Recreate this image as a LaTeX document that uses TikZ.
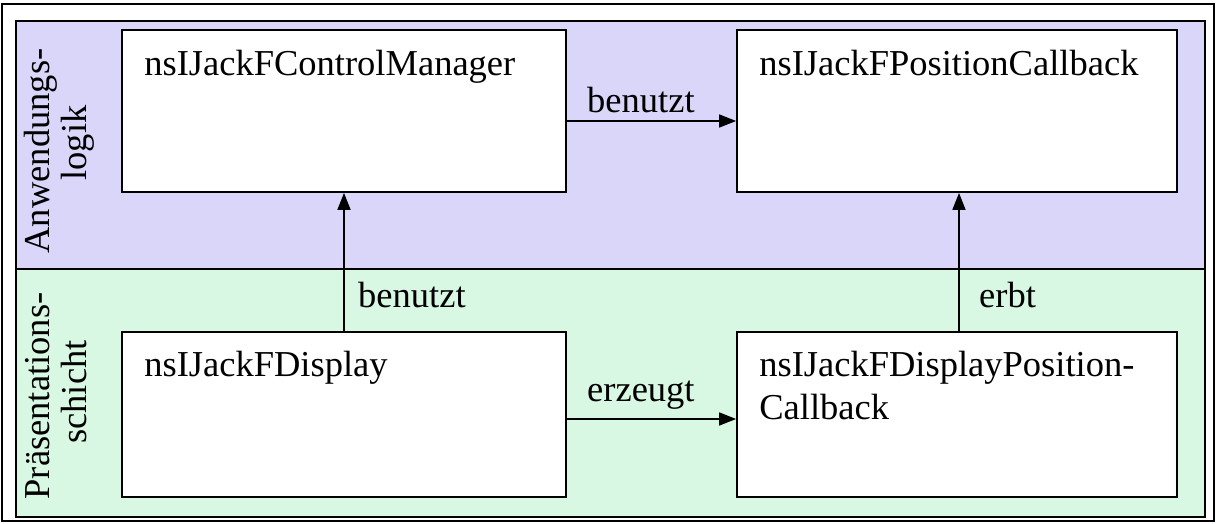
\documentclass[tikz,border=0pt]{standalone}
\usepackage{fontspec}
\setmainfont{Liberation Serif}
\usetikzlibrary{arrows.meta,calc}
\definecolor{lanepurple}{RGB}{218,214,250}
\definecolor{lanegreen}{RGB}{216,248,228}
\tikzset{
  txt/.style={inner sep=0pt, font=\fontsize{36.5}{43}\selectfont},
  classbox/.style={draw=black, line width=1.8pt, fill=white, rectangle, inner sep=0pt},
  arr/.style={draw=black, line width=1.6pt, -{Triangle[length=17pt,width=13pt]}},
  lane/.style={draw=black, line width=1.8pt},
}
\begin{document}
\begin{tikzpicture}[x=1pt,y=-1pt]
\useasboundingbox (0,0) rectangle (1216,524);
% outer frame
\draw[black, line width=1.5pt] (2,4) rectangle (1214,521);
% lanes
\draw[lane, fill=lanepurple] (16,21) rectangle (1205,269);
\draw[lane, fill=lanegreen] (16,269) rectangle (1205,517);
% lane labels
\node[txt, rotate=90, anchor=base] (l1a) at (49,151) {Anwendungs-};
\node[txt, rotate=90, anchor=base] (l1b) at (86,143) {logik};
\node[txt, rotate=90, anchor=base] (l2a) at (49,396) {Präsentations-};
\node[txt, rotate=90, anchor=base] (l2b) at (86,392) {schicht};
% boxes
\node[classbox, minimum width=444pt, minimum height=162pt] (cm) at (344,111) {};
\node[classbox, minimum width=440pt, minimum height=162pt] (pc) at (957,111) {};
\node[classbox, minimum width=444pt, minimum height=165pt] (disp) at (344,414.5) {};
\node[classbox, minimum width=440pt, minimum height=165pt] (dpc) at (957,414.5) {};
% box texts
\node[txt, anchor=base west] (tcm) at ($(cm.north west)+(23,46)$) {nsIJackFControlManager};
\node[txt, anchor=base west] (tpc) at ($(pc.north west)+(23,46)$) {nsIJackFPositionCallback};
\node[txt, anchor=base west] (tdisp) at ($(disp.north west)+(23,45)$) {nsIJackFDisplay};
\node[txt, anchor=base west] (tdpc) at ($(dpc.north west)+(23,45)$) {nsIJackFDisplayPosition-};
\node[txt, anchor=base west] (tdpc2) at ($(dpc.north west)+(23,88)$) {Callback};
% connectors
\draw[arr] ([yshift=-10pt]cm.east) -- ([yshift=-10pt]pc.west);
\draw[arr] ([yshift=-4.5pt]disp.east) -- ([yshift=-4.5pt]dpc.west);
\draw[arr] (disp.north) -- (cm.south);
\draw[arr] ([xshift=2pt]dpc.north) -- ([xshift=2pt]pc.south);
% connector labels
\node[txt, anchor=base west] (lb1) at (587,113) {benutzt};
\node[txt, anchor=base west] (lb2) at (587,401) {erzeugt};
\node[txt, anchor=base west] (lb3) at (358,307) {benutzt};
\node[txt, anchor=base west] (lb4) at (979,307) {erbt};
\end{tikzpicture}
\end{document}
